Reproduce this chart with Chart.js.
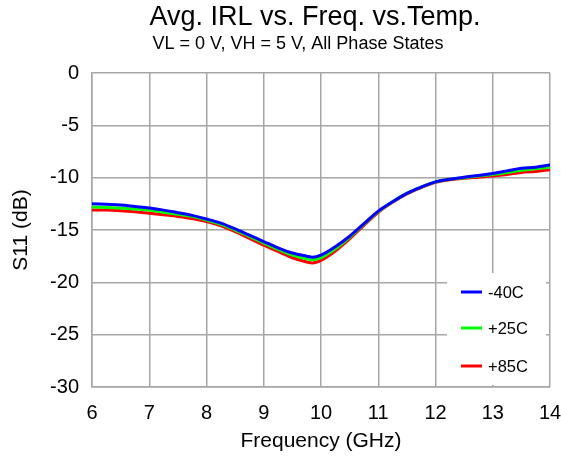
<!DOCTYPE html>
<html><head><meta charset="utf-8">
<script src="https://cdn.jsdelivr.net/npm/chart.js@4"></script>
<style>html,body{margin:0;padding:0;background:#fff}#w{width:561px;height:459px}</style>
</head><body><div id="w"><canvas id="c"></canvas></div>
<script>
const freq = [6,6.25,6.5,6.75,7,7.25,7.5,7.75,8,8.25,8.5,8.75,9,9.25,9.5,9.75,9.85,10,10.25,10.5,10.75,11,11.25,11.5,11.75,12,12.25,12.5,12.75,13,13.25,13.5,13.75,14];
const s11_m40 = [-12.5,-12.55,-12.6,-12.75,-12.9,-13.1,-13.35,-13.6,-13.95,-14.35,-14.9,-15.5,-16.1,-16.7,-17.2,-17.5,-17.6,-17.4,-16.6,-15.6,-14.4,-13.2,-12.3,-11.5,-10.9,-10.4,-10.15,-9.95,-9.8,-9.6,-9.35,-9.1,-9.0,-8.8];
const s11_p25 = [-12.8,-12.85,-12.9,-13.0,-13.1,-13.3,-13.5,-13.7,-14.05,-14.45,-15.0,-15.6,-16.25,-16.85,-17.4,-17.75,-17.85,-17.65,-16.8,-15.7,-14.45,-13.25,-12.3,-11.5,-10.9,-10.4,-10.15,-10.0,-9.85,-9.7,-9.5,-9.3,-9.15,-9.0];
const s11_p85 = [-13.1,-13.1,-13.15,-13.25,-13.4,-13.55,-13.7,-13.9,-14.2,-14.6,-15.15,-15.8,-16.45,-17.05,-17.65,-18.05,-18.15,-17.9,-17.0,-15.85,-14.55,-13.3,-12.35,-11.55,-10.95,-10.45,-10.2,-10.05,-9.95,-9.85,-9.7,-9.5,-9.4,-9.25];
const seriesNames = ['-40C','+25C','+85C'];
const seriesColors = ['#0000ff','#00ff00','#ff0000'];
const titleText = 'Avg. IRL vs. Freq. vs.Temp.';
const subtitleText = 'VL = 0 V, VH = 5 V, All Phase States';
const xTitle = 'Frequency (GHz)';
const yTitle = 'S11 (dB)';

const FONT = 'Arial, "Liberation Sans", sans-serif';
const mk = (ys) => freq.map((f,i)=>({x:f,y:ys[i]}));
const all = [s11_m40, s11_p25, s11_p85];

const titlePlugin = {
  id:'titles',
  afterDraw(chart){
    const ctx = chart.ctx;
    ctx.save();
    ctx.fillStyle = '#000';
    ctx.textAlign = 'center';
    ctx.textBaseline = 'middle';
    ctx.font = '27px ' + FONT;
    ctx.fillText(titleText, 315, 18);
    ctx.font = '18px ' + FONT;
    ctx.fillText(subtitleText, 298, 44);
    ctx.restore();
  }
};
const legendPlugin = {
  id:'boxLegend',
  afterDatasetsDraw(chart){
    const ctx = chart.ctx;
    ctx.save();
    ctx.fillStyle = '#fff';
    ctx.fillRect(447, 273, 99, 112);
    const ys = [292, 328, 366];
    ctx.font = '16.5px ' + FONT;
    ctx.textBaseline = 'middle';
    ctx.textAlign = 'left';
    seriesNames.forEach((n,i)=>{
      ctx.strokeStyle = seriesColors[i];
      ctx.lineWidth = 3;
      ctx.beginPath();
      ctx.moveTo(461, ys[i]); ctx.lineTo(482, ys[i]); ctx.stroke();
      ctx.fillStyle = '#000';
      ctx.fillText(n, 488, ys[i] + 1);
    });
    ctx.restore();
  }
};

new Chart(document.getElementById('c'), {
  type:'line',
  data:{datasets: all.map((ys,i)=>({
    label: seriesNames[i], data: mk(ys), borderColor: seriesColors[i],
    backgroundColor: seriesColors[i], borderWidth: 3, pointRadius: 0,
    tension: 0.4, cubicInterpolationMode:'monotone', fill:false
  }))},
  options:{
    responsive:true, maintainAspectRatio:false, animation:false,
    layout:{padding:{top:73,right:11,left:0,bottom:0}},
    plugins:{legend:{display:false}, title:{display:false}, tooltip:{enabled:false}},
    scales:{
      x:{type:'linear', min:6, max:14,
        ticks:{stepSize:1, color:'#000', font:{size:20, family:FONT}, padding:14},
        grid:{color:'#a6a6a6', lineWidth:1.5, drawTicks:false},
        border:{color:'#a6a6a6', width:1.5},
        title:{display:true, text:xTitle, color:'#000', font:{size:21, family:FONT}, padding:{top:5,bottom:5}},
        afterFit(s){ s.height = 72; s.paddingLeft = 0; s.paddingRight = 0; }
      },
      y:{min:-30, max:0,
        ticks:{stepSize:5, color:'#000', font:{size:20, family:FONT}, padding:13},
        grid:{color:'#a6a6a6', lineWidth:1.5, drawTicks:false},
        border:{color:'#a6a6a6', width:1.5},
        title:{display:true, text:yTitle, color:'#000', font:{size:21, family:FONT}, padding:{top:9,bottom:9}},
        afterFit(s){ s.width = 92; s.paddingTop = 0; s.paddingBottom = 0; }
      }
    }
  },
  plugins:[titlePlugin, legendPlugin]
});
</script>
</body></html>
